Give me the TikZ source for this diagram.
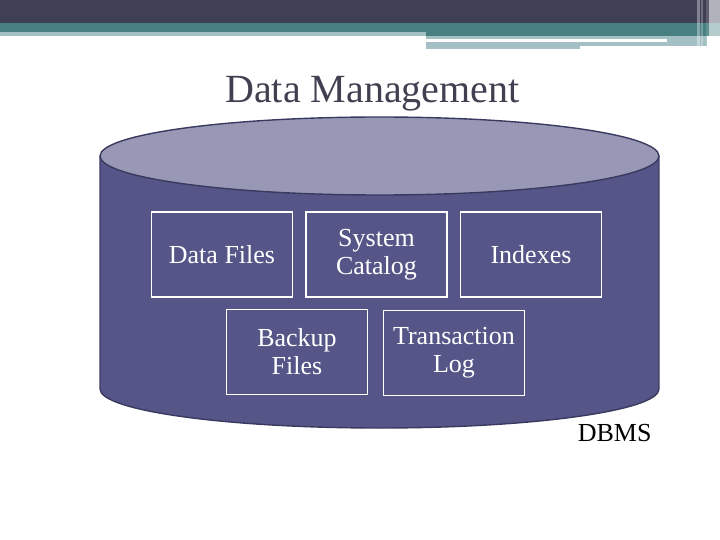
\documentclass[tikz,border=0pt]{standalone}
\usepackage{fontspec}
\setmainfont{Liberation Serif}
\definecolor{barDark}{RGB}{64,64,85}
\definecolor{barTeal}{RGB}{72,128,130}
\definecolor{barLight}{RGB}{164,192,196}
\definecolor{dbBody}{RGB}{85,85,136}
\definecolor{dbTop}{RGB}{152,152,182}
\definecolor{dbEdge}{RGB}{58,58,96}
\definecolor{titleInk}{RGB}{64,64,80}

\begin{document}
\begin{tikzpicture}[x=1pt,y=-1pt,
    store/.style={draw=white,line width=1.6pt,text=white,minimum width=141pt,
                  minimum height=85pt,inner sep=0pt,align=center,
                  font=\fontsize{26}{28}\selectfont}]
  \useasboundingbox (0,0) rectangle (720,540);
  % header bar
  \fill[barDark] (0,0) rectangle (720,23);
  \fill[barTeal] (0,23) rectangle (720,36);
  \fill[barLight] (0,32) rectangle (426,36);
  \fill[barLight] (426,36) rectangle (667,39);
  \fill[barLight] (426,42) rectangle (580,49);
  \fill[barLight] (580,42) rectangle (707,46);
  \fill[barLight] (667,36) rectangle (707,46);
  \foreach \xa/\xb/\op in {697/700/0.35,701/703/0.25,706/709/0.15,709/720/0.6}
    \fill[white,opacity=\op] (\xa,0) rectangle (\xb,48);
  % title
  \node[anchor=base,text=titleInk,font=\fontsize{40}{44}\selectfont] (title) at (372.5,103) {Data Management};
  % the cylinder
  \fill[dbBody] (100,156) rectangle (659,389);
  \fill[dbBody] (379.5,389) ellipse [x radius=279.5pt,y radius=39pt];
  \draw[dbEdge,line width=1.4pt] (100,156) -- (100,389)
    arc[start angle=180,end angle=360,x radius=279.5pt,y radius=39pt] -- (659,156);
  \draw[dbEdge,line width=1.4pt,fill=dbTop] (379.5,156) ellipse [x radius=279.5pt,y radius=39pt];
  % contents
  \node[store] (dataFiles) at (222,254.5) {Data Files};
  \node[store] (sysCatalog) at (376.5,254.5) {System\\Catalog};
  \node[store] (indexes) at (531,254.5) {Indexes};
  \node[store] (backupFiles) at (297,352) {Backup\\Files};
  \node[store] (transLog) at (454,353) {Transaction\\Log};
  \node[anchor=base east,font=\fontsize{26}{28}\selectfont] (dbms) at (655,441) {DBMS};
\end{tikzpicture}
\end{document}
